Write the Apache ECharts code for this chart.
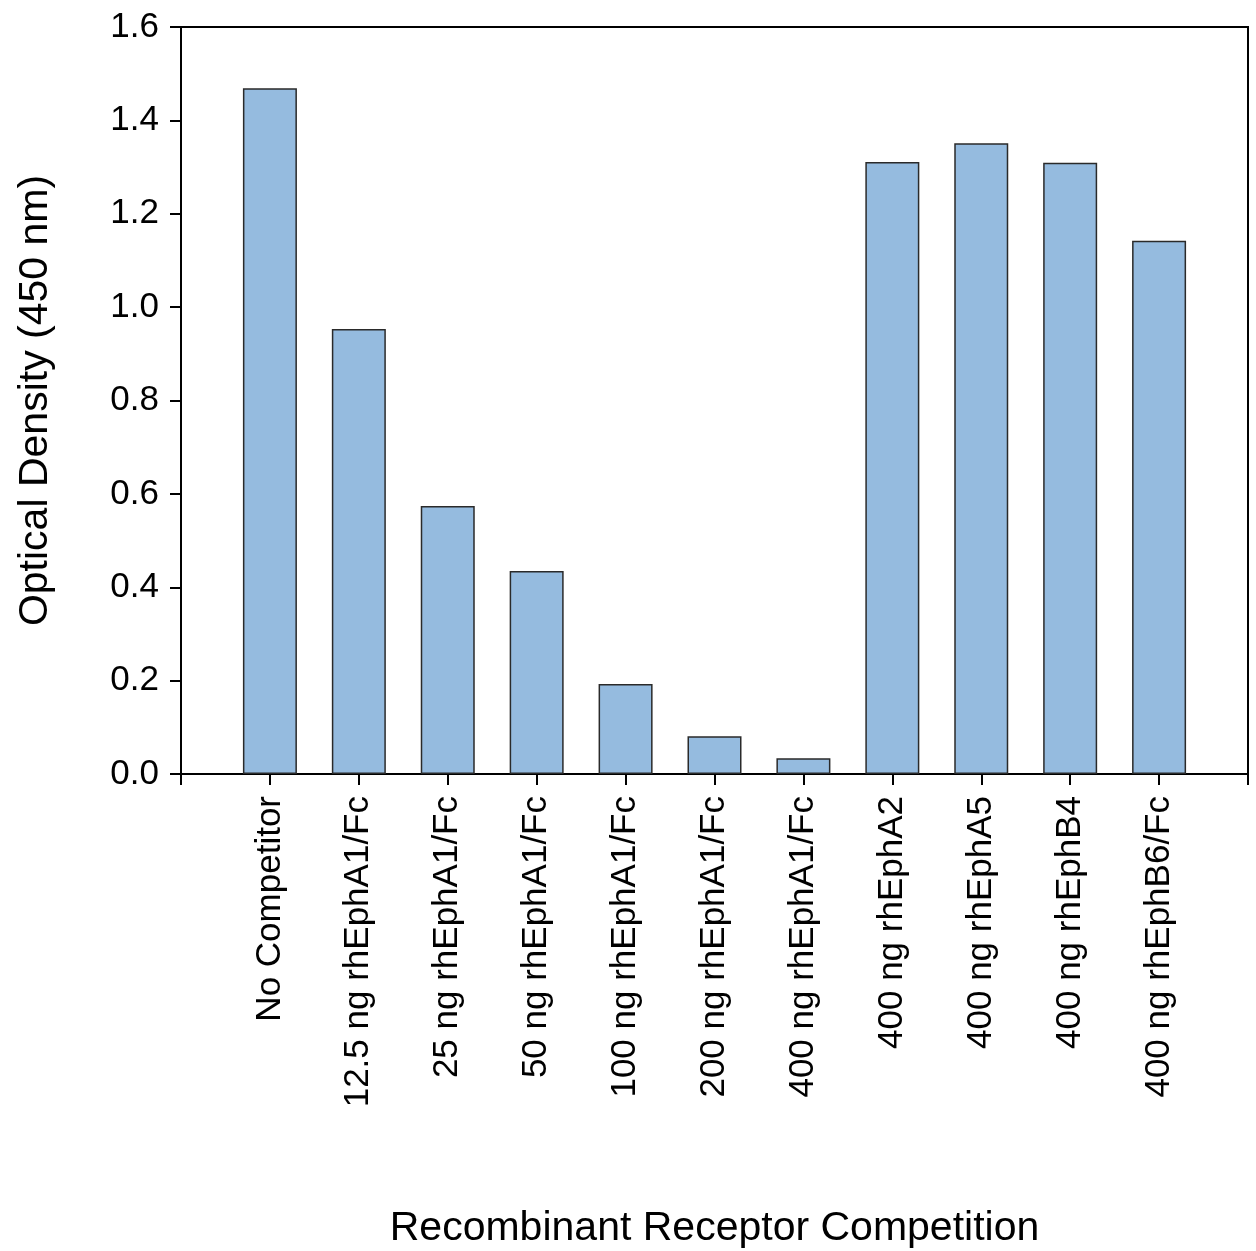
<!DOCTYPE html>
<html>
<head>
<meta charset="utf-8">
<script src="https://cdn.jsdelivr.net/npm/echarts@6/dist/echarts.min.js"></script>
<style>
html,body{margin:0;padding:0;background:#fff;}
#chart{width:1256px;height:1251px;}
</style>
</head>
<body>
<div id="chart"></div>
<script>
const categories = [
  "No Competitor",
  "12.5 ng rhEphA1/Fc",
  "25 ng rhEphA1/Fc",
  "50 ng rhEphA1/Fc",
  "100 ng rhEphA1/Fc",
  "200 ng rhEphA1/Fc",
  "400 ng rhEphA1/Fc",
  "400 ng rhEphA2",
  "400 ng rhEphA5",
  "400 ng rhEphB4",
  "400 ng rhEphB6/Fc"
];
const values = [1.469, 0.953, 0.574, 0.435, 0.193, 0.081, 0.034, 1.311, 1.351, 1.309, 1.142];
const yTicks = [0, 0.2, 0.4, 0.6, 0.8, 1.0, 1.2, 1.4, 1.6];

const chart = echarts.init(document.getElementById('chart'), null, {renderer: 'canvas'});
const font = 'Liberation Sans, Arial, Helvetica, sans-serif';
const barData = values.map((v, i) => [i + 1, v]);

chart.setOption({
  backgroundColor: '#ffffff',
  animation: false,
  grid: {
    left: 181, right: 8, top: 27, bottom: 477,
    outerBoundsMode: 'none',
    containLabel: false,
    show: true, borderColor: '#000', borderWidth: 2, backgroundColor: 'transparent'
  },
  xAxis: {
    type: 'value',
    min: 0, max: categories.length + 1, interval: 1,
    splitLine: {show: false},
    axisLine: {show: true, lineStyle: {color: '#000', width: 2}},
    axisTick: {show: true, length: 11, lineStyle: {color: '#000', width: 2}},
    axisLabel: {
      rotate: 90,
      margin: 22,
      fontSize: 35,
      fontFamily: font,
      color: '#000',
      showMinLabel: true, showMaxLabel: true,
      formatter: function (v) {
        const i = Math.round(v) - 1;
        return (i >= 0 && i < categories.length) ? categories[i] : '';
      }
    },
    name: 'Recombinant Receptor Competition',
    nameLocation: 'middle',
    nameGap: 434,
    nameTextStyle: {fontSize: 41, fontFamily: font, color: '#000'}
  },
  yAxis: {
    type: 'value',
    min: yTicks[0], max: yTicks[yTicks.length - 1], interval: 0.2,
    splitLine: {show: false},
    axisLine: {show: true, lineStyle: {color: '#000', width: 2}},
    axisTick: {show: true, length: 11, lineStyle: {color: '#000', width: 2}},
    axisLabel: {
      margin: 22,
      fontSize: 35,
      fontFamily: font,
      color: '#000',
      formatter: v => v.toFixed(1)
    },
    name: 'Optical Density (450 nm)',
    nameLocation: 'middle',
    nameGap: 125,
    nameTextStyle: {fontSize: 41, fontFamily: font, color: '#000'}
  },
  series: [{
    type: 'bar',
    data: barData,
    barWidth: 54,
    itemStyle: {color: '#95bbdf', borderColor: '#2a2a2a', borderWidth: 1.5}
  }]
});
</script>
</body>
</html>
